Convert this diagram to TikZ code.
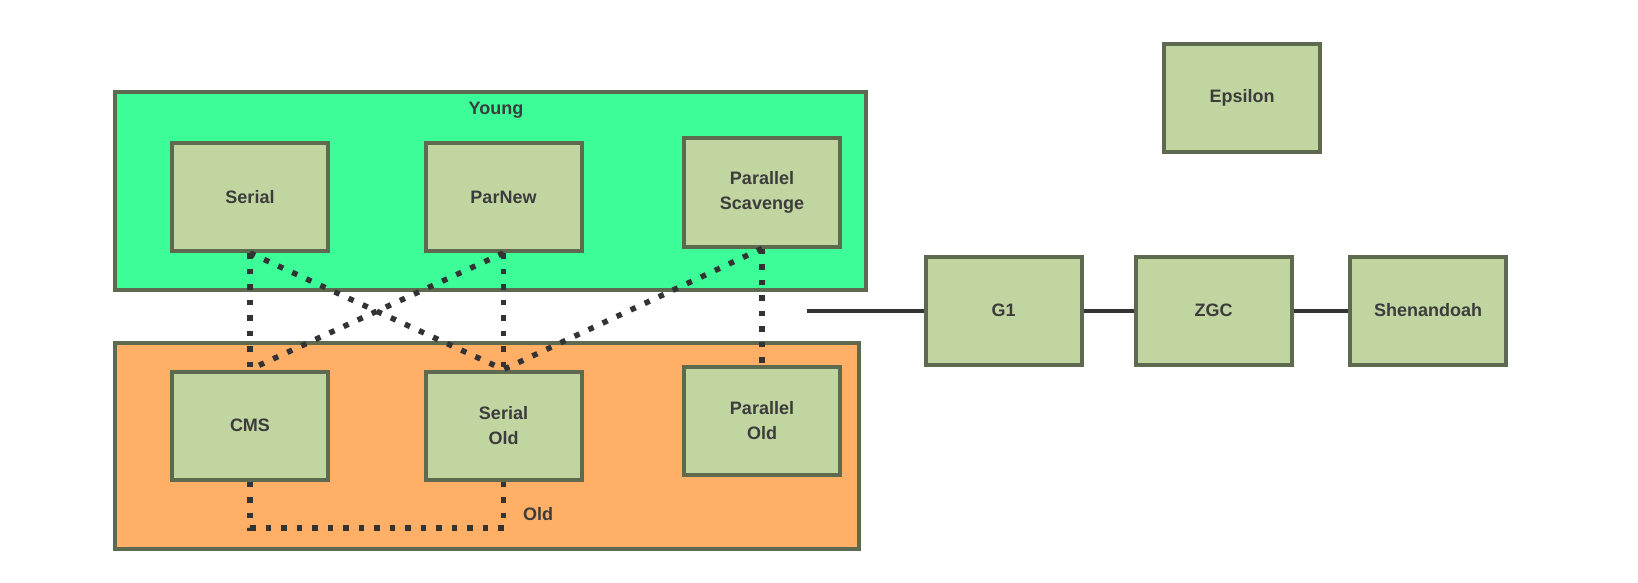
\documentclass[tikz,border=0pt]{standalone}
\usepackage{fontspec}
\setmainfont{Liberation Sans}
\usetikzlibrary{calc}
\definecolor{boxborder}{HTML}{5E6A50}
\definecolor{boxfill}{HTML}{C1D5A1}
\definecolor{youngfill}{HTML}{3DFD98}
\definecolor{oldfill}{HTML}{FFAF66}
\definecolor{txt}{HTML}{3C3C3C}
\definecolor{linecol}{HTML}{333333}
\tikzset{
  gcbox/.style={draw=boxborder, line width=4pt, fill=boxfill, minimum width=156pt, minimum height=108pt,
    align=center, text=txt, font=\fontsize{18}{25}\selectfont\bfseries, inner sep=0pt},
  region/.style={draw=boxborder, line width=4pt, inner sep=0pt},
  dotline/.style={draw=linecol, line width=5.5pt, dash pattern=on 5.5pt off 10pt},
  solidline/.style={draw=linecol, line width=4pt},
  lbl/.style={text=txt, font=\fontsize{18}{22}\selectfont\bfseries, inner sep=0pt}
}
\begin{document}
\begin{tikzpicture}[x=1pt,y=-1pt]
\useasboundingbox (0,0) rectangle (1638,583);
% regions
\node[region, fill=youngfill, minimum width=751pt, minimum height=198pt] (young) at (490.5,191) {};
\node[region, fill=oldfill, minimum width=744pt, minimum height=206pt] (old) at (487,446) {};
\node[lbl] (younglbl) at (496,110) {Young};
\node[lbl] (oldlbl) at (538,514) {Old};
% boxes
\node[gcbox] (serial) at (250,197) {Serial};
\node[gcbox] (parnew) at (503.5,197) {ParNew};
\node[gcbox] (ps) at (762,192.5) {Parallel\\Scavenge};
\node[gcbox] (cms) at (250,425.5) {CMS};
\node[gcbox] (sold) at (503.5,425.5) {Serial\\Old};
\node[gcbox] (pold) at (762,421) {Parallel\\Old};
\node[gcbox] (eps) at (1242,98) {Epsilon};
\node[gcbox] (g1) at (1003.5,310.5) {G1};
\node[gcbox] (zgc) at (1213.5,310.5) {ZGC};
\node[gcbox] (shen) at (1428,310.5) {Shenandoah};
% dotted connectors
\draw[dotline] (serial.south) -- (cms.north);
\draw[dotline] (serial.south) -- (sold.north);
\draw[dotline] (parnew.south) -- (cms.north);
\draw[dotline] (parnew.south) -- (sold.north);
\draw[dotline] (ps.south) -- (sold.north);
\draw[dotline] (ps.south) -- (pold.north);
\coordinate (loopbot) at (503.5,528);
\draw[dotline] (cms.south) |- (loopbot) -- (sold.south);
% solid connectors
\coordinate (lstart) at (807,310.5);
\draw[solidline] (lstart) -- (g1.west);
\draw[solidline] (g1.east) -- (zgc.west);
\draw[solidline] (zgc.east) -- (shen.west);
\end{tikzpicture}
\end{document}
